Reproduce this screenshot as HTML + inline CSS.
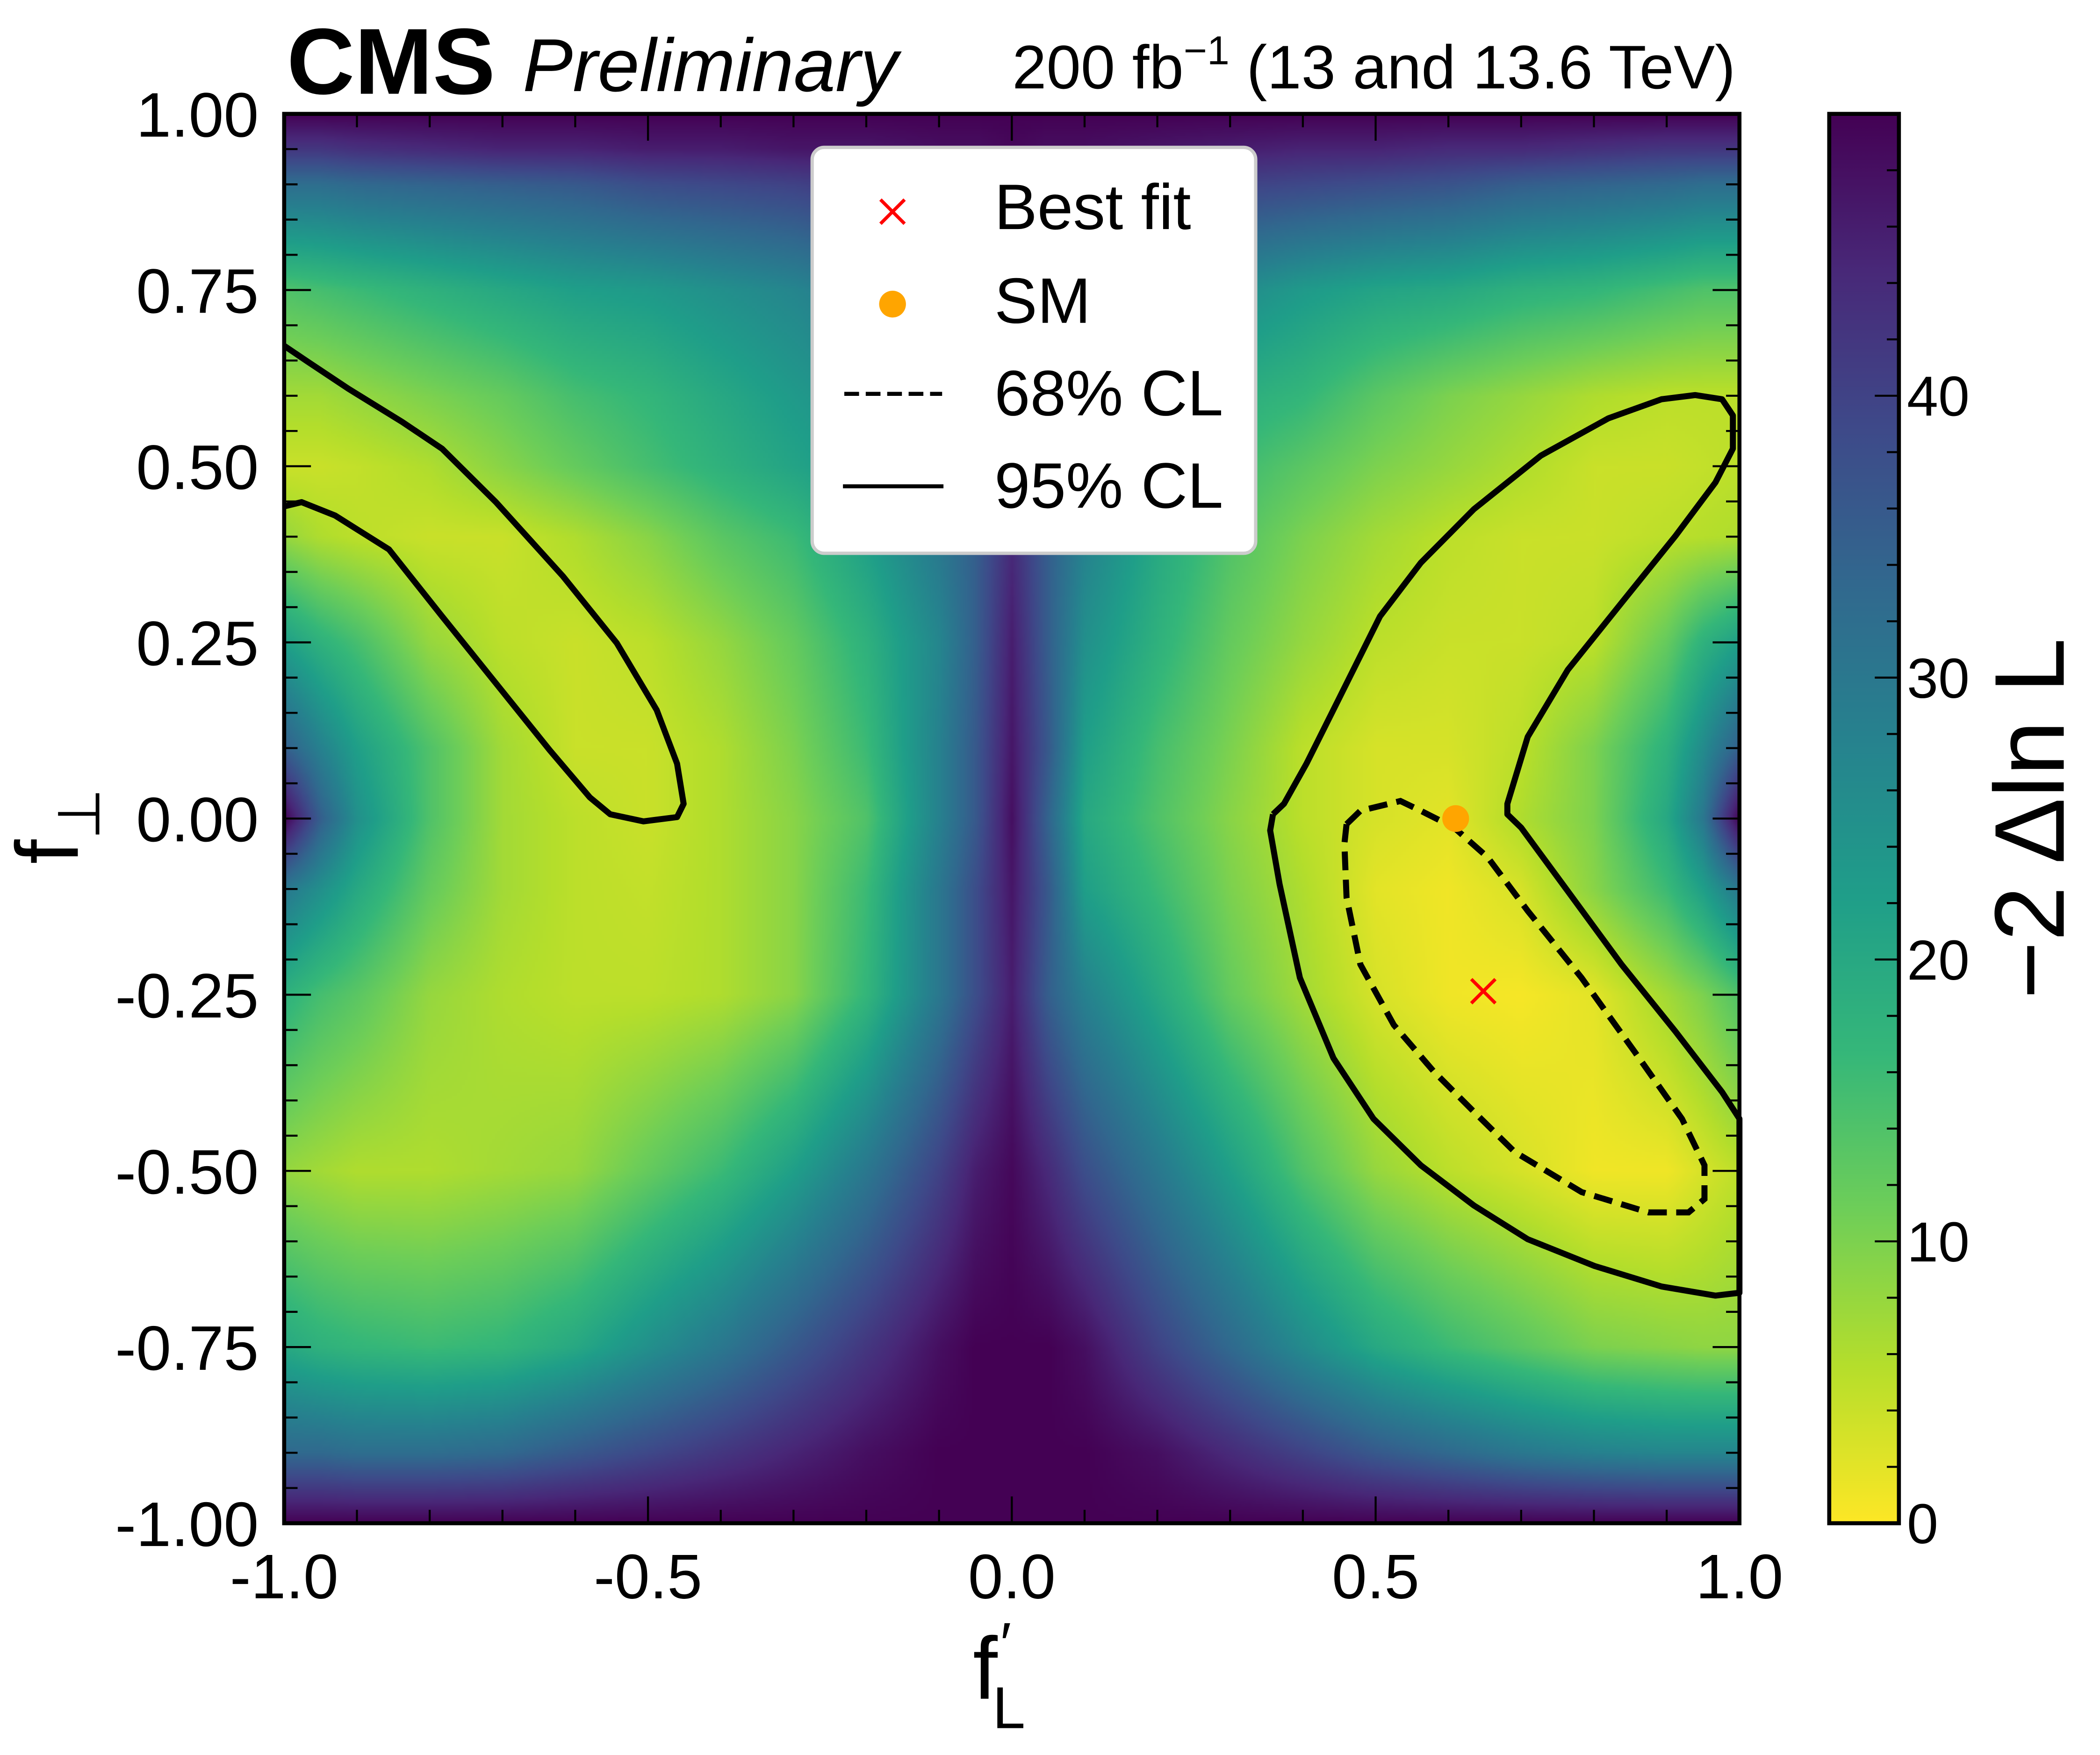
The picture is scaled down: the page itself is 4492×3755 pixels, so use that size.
<!DOCTYPE html>
<html><head><meta charset="utf-8">
<style>
html,body{margin:0;padding:0;background:#fff;}
#wrap{position:relative;width:4492px;height:3755px;overflow:hidden;}
#heat{position:absolute;left:607.7px;top:243.6px;width:3113px;height:3015.5px;}
#ov{position:absolute;left:0;top:0;}
</style></head>
<body>
<div id="wrap">
<canvas id="heat" width="543" height="526"></canvas>
<svg id="ov" width="4492" height="3755" viewBox="0 0 1567 1310" xmlns="http://www.w3.org/2000/svg">
<defs>
<linearGradient id="cbg" x1="0" y1="1" x2="0" y2="0">
<stop offset="0" stop-color="#fde725"/><stop offset="0.111" stop-color="#b5de2b"/><stop offset="0.222" stop-color="#6ece58"/><stop offset="0.333" stop-color="#35b779"/><stop offset="0.444" stop-color="#1f9e89"/><stop offset="0.556" stop-color="#26828e"/><stop offset="0.667" stop-color="#31688e"/><stop offset="0.778" stop-color="#3e4989"/><stop offset="0.889" stop-color="#482878"/><stop offset="1" stop-color="#440154"/>
</linearGradient>
</defs>
<g id="contours"></g>
<g id="markers"></g>
<rect x="212" y="85" width="1086" height="1052" fill="none" stroke="#000" stroke-width="3"/>
<g id="ticks"></g>
<g id="labels" font-family="Liberation Sans, sans-serif" font-size="47" fill="#000"></g>
<rect x="1365" y="85" width="52" height="1052" fill="url(#cbg)" stroke="#000" stroke-width="3"/>
<g id="cbticks"></g>
<text x="214" y="70" font-family="Liberation Sans, sans-serif" font-weight="bold" font-size="70">CMS</text>
<text x="390" y="68" font-family="Liberation Sans, sans-serif" font-style="italic" font-size="56">Preliminary</text>
<text x="1295" y="66" text-anchor="end" font-family="Liberation Sans, sans-serif" font-size="46">200 fb<tspan dy="-18" font-size="30">−1</tspan><tspan dy="18"> (13 and 13.6 TeV)</tspan></text>
<text x="726" y="1268" font-family="Liberation Sans, sans-serif" font-size="66">f<tspan dx="2" dy="-26" font-size="44">′</tspan><tspan dx="-14" dy="48" font-size="44">L</tspan></text>
<g transform="translate(58,645) rotate(-90)"><text x="0" y="0" font-family="Liberation Sans, 'DejaVu Sans', sans-serif" font-size="66">f<tspan dy="16" font-size="44">⊥</tspan></text></g>
<g transform="translate(1540,611) rotate(-90)"><text x="0" y="0" text-anchor="middle" font-family="Liberation Sans, 'DejaVu Sans', sans-serif" font-size="74">−2 Δln L</text></g>
<g>
<rect x="606" y="110" width="331" height="303" rx="9" fill="#fff" stroke="#ccc" stroke-width="2.5"/>
<g><path d="M657 149 L675 167 M675 149 L657 167" stroke="#f00" stroke-width="2.5"/><text x="742" y="171" font-family="Liberation Sans, sans-serif" font-size="48">Best fit</text></g>
<g><circle cx="666" cy="227" r="10" fill="#ffa500"/><text x="742" y="241" font-family="Liberation Sans, sans-serif" font-size="48">SM</text></g>
<g><line x1="630" y1="294" x2="703" y2="294" stroke="#000" stroke-width="3" stroke-dasharray="11,5"/><text x="742" y="310" font-family="Liberation Sans, sans-serif" font-size="48">68% CL</text></g>
<g><line x1="629" y1="363" x2="704" y2="363" stroke="#000" stroke-width="3"/><text x="742" y="379" font-family="Liberation Sans, sans-serif" font-size="48">95% CL</text></g>
</g>
</svg>
</div>
<script>
// ---- data ----
const gridX = [-1,-0.95,-0.9,-0.8,-0.7,-0.6,-0.5,-0.4,-0.3,-0.2,-0.1,-0.05,0,0.05,0.1,0.2,0.3,0.4,0.5,0.6,0.7,0.8,0.9,0.95,1];
const gridY = [1,0.95,0.9,0.75,0.6,0.5,0.4,0.25,0.1,0,-0.1,-0.25,-0.5,-0.75,-0.9,-1];
const gridZ = [
[50,50,50,50,50,50,50,50,50,50,50,50,50,50,50,50,50,50,50,50,50,50,50,50,50],
[42,42,43,44,45,45,46,46,47,47,48,48,49,48,48,47,46,45,45,44,44,43,42,42,42],
[32,32,33,34,35,36,38,39,40,42,43,44,45,44,43,41,40,39,38,37,35,34,33,32,32],
[14,15,16,18,20,22,23,25,27,30,34,36,40,36,33,28,26,23,21,20,18,17,15,14,14],
[7,7,8,10,12,15,17,20,23,26,31,34,40,34,30,22,19,17,13,10,8,6,5,5,5],
[4,4,4.5,6,9,12,15,18,21,24,29,33,40,33,28,20,16,13,10,8,6,4,4,4.5,5],
[8,6,5,4,4,6,9,13,16,22,30,35,44,35,28,20,14,10,7,5,4,4,5,5.5,6],
[22,18,15,8,5,4,5,8,12,18,27,35,46,35,25,18,12,8,5,4,4,5,12,18,22],
[35,28,22,14,7,4,4,6,10,16,28,36,47,36,22,15,10,5,3,3,5,10,18,26,35],
[50,35,25,14,7,5,4,6,9,14,28,36,48,34,20,14,9,5,3,2,6,10,20,30,50],
[30,25,20,12,7,5,4.5,6,9,16,30,38,47,36,22,16,10,6,2,1,3,9,16,22,30],
[18,15,13,8,6,5,5,6,9,17,30,38,46,35,28,20,12,7,3,1,0.5,2,7,10,14],
[8,7,6,6,7,8,12,16,22,30,40,46,49,44,38,30,22,14,8,5,3,1,1,3,5],
[20,18,17,16,17,20,25,30,36,42,48,50,50,50,48,40,33,26,20,16,13,10,9,8.5,8.5],
[33,33,32,32,33,36,39,42,45,48,50,50,50,50,50,48,44,40,36,33,30,28,27,27,27],
[50,50,50,50,50,50,50,50,50,50,50,50,50,50,50,50,50,50,50,50,50,50,50,50,50]
];
const zMax = 50;
const xTicks = [-1,-0.5,0,0.5,1];
const xTickLabels = ["-1.0","-0.5","0.0","0.5","1.0"];
const yTicks = [1,0.75,0.5,0.25,0,-0.25,-0.5,-0.75,-1];
const yTickLabels = ["1.00","0.75","0.50","0.25","0.00","-0.25","-0.50","-0.75","-1.00"];
const cbTicks = [0,10,20,30,40];
const leftContourX = [-1,-0.967,-0.912,-0.838,-0.783,-0.709,-0.617,-0.543,-0.488,-0.46,-0.451,-0.46,-0.506,-0.552,-0.58,-0.635,-0.709,-0.783,-0.856,-0.93,-0.976,-1];
const leftContourY = [0.671,0.648,0.61,0.563,0.525,0.449,0.344,0.249,0.154,0.078,0.021,0.002,-0.004,0.006,0.03,0.097,0.192,0.287,0.382,0.43,0.449,0.443];
const rightContourX = [0.359,0.374,0.405,0.451,0.506,0.562,0.635,0.727,0.82,0.893,0.939,0.976,0.991,0.991,0.967,0.912,0.838,0.764,0.709,0.681,0.681,0.7,0.764,0.838,0.912,0.976,1,1,0.967,0.893,0.801,0.709,0.635,0.562,0.497,0.442,0.396,0.368,0.355,0.359];
const rightContourY = [0.006,0.021,0.078,0.173,0.287,0.363,0.439,0.515,0.568,0.595,0.601,0.595,0.572,0.525,0.477,0.401,0.306,0.211,0.116,0.021,0.006,-0.013,-0.103,-0.207,-0.302,-0.388,-0.426,-0.673,-0.677,-0.664,-0.635,-0.597,-0.549,-0.492,-0.426,-0.34,-0.226,-0.093,-0.017,0.006];
const cl68X = [0.46,0.479,0.534,0.562,0.608,0.654,0.709,0.783,0.856,0.921,0.952,0.952,0.93,0.875,0.783,0.691,0.635,0.58,0.525,0.479,0.46,0.457,0.46];
const cl68Y = [-0.008,0.011,0.025,0.011,-0.013,-0.055,-0.131,-0.226,-0.331,-0.426,-0.492,-0.54,-0.559,-0.559,-0.53,-0.473,-0.416,-0.359,-0.293,-0.207,-0.112,-0.036,-0.008];
const bestFit = [0.648,-0.245];
const smPoint = [0.61,0.0];

// ---- axes ----
const PX0=212, PX1=1298, PY0=85, PY1=1137;
const sx = v => PX0 + (v+1)/2*(PX1-PX0);
const sy = v => PY1 - (v+1)/2*(PY1-PY0);
const sc = v => 1137 - v/zMax*(1137-85);
const NS='http://www.w3.org/2000/svg';
function mk(tag, attrs, parent){const e=document.createElementNS(NS,tag);for(const k in attrs)e.setAttribute(k,attrs[k]);parent.appendChild(e);return e;}

// ---- heatmap ----
const vir=[[253,231,37],[181,222,43],[110,206,88],[53,183,121],[31,158,137],[38,130,142],[49,104,142],[62,73,137],[72,40,120],[68,1,84]];
function cmap(v){let t=Math.max(0,Math.min(1,v/zMax))*(vir.length-1);let i=Math.min(vir.length-2,Math.floor(t));let f=t-i;return vir[i].map((c,k)=>c+(vir[i+1][k]-c)*f);}
function idx(arr,v,desc){for(let i=0;i<arr.length-1;i++){const a=arr[i],b=arr[i+1];if(desc?(v<=a&&v>=b):(v>=a&&v<=b))return [i,(v-a)/(b-a)];}return [arr.length-2,1];}
(function(){
 const cv=document.getElementById('heat');const ctx=cv.getContext('2d');
 const W=cv.width,H=cv.height;const img=ctx.createImageData(W,H);
 for(let py=0;py<H;py++){const y=1-2*(py+0.5)/H;const [j,fy]=idx(gridY,y,true);
  for(let px=0;px<W;px++){const x=-1+2*(px+0.5)/W;const [i,fx]=idx(gridX,x,false);
   const z=(gridZ[j][i]*(1-fx)+gridZ[j][i+1]*fx)*(1-fy)+(gridZ[j+1][i]*(1-fx)+gridZ[j+1][i+1]*fx)*fy;
   const c=cmap(z);const o=(py*W+px)*4;img.data[o]=c[0];img.data[o+1]=c[1];img.data[o+2]=c[2];img.data[o+3]=255;}}
 ctx.putImageData(img,0,0);
})();

// ---- contours ----
const cg=document.getElementById('contours');
function pathFrom(xs,ys){return xs.map((x,i)=>(i?'L':'M')+sx(x).toFixed(1)+' '+sy(ys[i]).toFixed(1)).join(' ');}
const c1=mk('path',{d:pathFrom(leftContourX,leftContourY),fill:'none',stroke:'#000','stroke-width':4.5,'stroke-linejoin':'round'},cg);


const c2=mk('path',{d:pathFrom(rightContourX,rightContourY),fill:'none',stroke:'#000','stroke-width':4.5,'stroke-linejoin':'round'},cg);


const c3=mk('path',{d:pathFrom(cl68X,cl68Y),fill:'none',stroke:'#000','stroke-width':4.5,'stroke-dasharray':'14,7'},cg);



const mg=document.getElementById('markers');
const sm=mk('circle',{cx:sx(smPoint[0]),cy:sy(smPoint[1]),r:10,fill:'#ffa500'},mg);


const bx=sx(bestFit[0]),by=sy(bestFit[1]);
const bf=mk('path',{d:`M${bx-9} ${by-9} L${bx+9} ${by+9} M${bx+9} ${by-9} L${bx-9} ${by+9}`,stroke:'#f00','stroke-width':2.5},mg);



// ---- ticks ----
const tg=document.getElementById('ticks');const lg=document.getElementById('labels');
for(let k=-10;k<=10;k++){const v=k/10;const X=sx(v);const major=(k%5===0);const L=major?20:10;
 mk('line',{x1:X,y1:PY1,x2:X,y2:PY1-L,stroke:'#000','stroke-width':1.5},tg);
 mk('line',{x1:X,y1:PY0,x2:X,y2:PY0+L,stroke:'#000','stroke-width':1.5},tg);}
for(let k=-20;k<=20;k++){const v=k/20;const Y=sy(v);const major=(k%5===0);const L=major?20:10;
 mk('line',{x1:PX0,y1:Y,x2:PX0+L,y2:Y,stroke:'#000','stroke-width':1.5},tg);
 mk('line',{x1:PX1,y1:Y,x2:PX1-L,y2:Y,stroke:'#000','stroke-width':1.5},tg);}
xTicks.forEach((v,i)=>{const t=mk('text',{x:sx(v),y:1193,'text-anchor':'middle'},lg);t.textContent=xTickLabels[i];
 
 });
yTicks.forEach((v,i)=>{const t=mk('text',{x:193,y:sy(v)+17,'text-anchor':'end'},lg);t.textContent=yTickLabels[i];
 
 });
const cbg=document.getElementById('cbticks');
for(let v=0;v<=48;v+=2){const Y=sc(v);const major=(v%10===0);
 mk('line',{x1:1417,y1:Y,x2:major?1399:1408,y2:Y,stroke:'#000','stroke-width':1.5},cbg);}
cbTicks.forEach(v=>{const t=mk('text',{x:1423,y:sc(v)+15,'font-family':'Liberation Sans, sans-serif','font-size':42},cbg);t.textContent=String(v);
 
 });
</script>
</body></html>
